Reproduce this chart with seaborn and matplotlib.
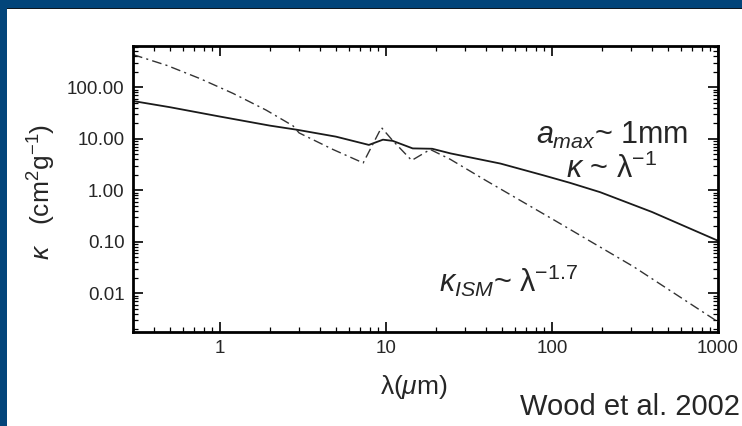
import matplotlib
matplotlib.use("Agg")
import matplotlib.pyplot as plt
from matplotlib.patches import Rectangle
from matplotlib.ticker import FixedLocator, FixedFormatter, LogLocator, NullFormatter
import seaborn as sns
import pandas as pd

# values
wl_mm = [0.3, 0.5, 1.0, 2.0, 2.9, 5.0, 7.9, 9.6, 11.0, 14.5, 19.0, 24.5, 49.0, 89.0, 128.0, 195.0, 400.0, 1000.0]
kappa_mm = [54, 41, 27, 18, 15, 11, 7.6, 9.6, 9.1, 6.5, 6.4, 5.2, 3.3, 1.95, 1.4, 0.92, 0.38, 0.105]

wl_ism = [0.3, 0.48, 0.76, 1.2, 1.9, 2.76, 3.0, 4.8, 7.3, 9.4, 11.0, 14.3, 18.5, 24.4, 40.0, 100.0, 310.0, 1000.0]
kappa_ism = [430, 265, 147, 76, 36, 17.8, 13, 6.2, 3.4, 16.5, 9.2, 3.8, 6.2, 4.0, 1.55, 0.28, 0.033, 0.0028]

xtick_vals = [1, 10, 100, 1000]
xtick_labels = ["1", "10", "100", "1000"]
ytick_vals = [0.01, 0.1, 1, 10, 100]
ytick_labels = ["0.01", "0.10", "1.00", "10.00", "100.00"]

blue = "#03457a"
W, H = 742, 426

sns.set_style("ticks")
plt.rcParams["font.family"] = ["Liberation Sans", "DejaVu Sans"]
plt.rcParams["mathtext.fontset"] = "custom"
plt.rcParams["mathtext.rm"] = "Liberation Sans"
plt.rcParams["mathtext.it"] = "Liberation Sans:italic"
plt.rcParams["mathtext.bf"] = "Liberation Sans:bold"

fig = plt.figure(figsize=(W / 100, H / 100), dpi=100, facecolor=blue)
# white slide area inside the blue frame
fig.patches.append(Rectangle((7 / W, 0), 1 - 7 / W, 1 - 8 / H, transform=fig.transFigure,
                             facecolor="white", edgecolor="none", zorder=-2))
fig.patches.append(Rectangle((7 / W, 1 - 9 / H), 1 - 7 / W, 1.5 / H, transform=fig.transFigure,
                             facecolor="#101820", edgecolor="none", zorder=-1))

ax = fig.add_axes([133 / W, 1 - 332 / H, (718 - 133) / W, (332 - 46) / H])
ax.set_facecolor("none")

df_mm = pd.DataFrame({"wl": wl_mm, "kappa": kappa_mm})
df_ism = pd.DataFrame({"wl": wl_ism, "kappa": kappa_ism})
sns.lineplot(data=df_mm, x="wl", y="kappa", ax=ax, color="#1a1a1a", linewidth=1.3)
sns.lineplot(data=df_ism, x="wl", y="kappa", ax=ax, color="#333333", linewidth=1.0,
             linestyle=(0, (7, 3, 1.5, 3)))

ax.set_xscale("log")
ax.set_yscale("log")
ax.set_xlim(0.3, 1000)
ax.set_ylim(0.00178, 631)

ax.xaxis.set_major_locator(FixedLocator(xtick_vals))
ax.xaxis.set_major_formatter(FixedFormatter(xtick_labels))
ax.yaxis.set_major_locator(FixedLocator(ytick_vals))
ax.yaxis.set_major_formatter(FixedFormatter(ytick_labels))
ax.xaxis.set_minor_locator(LogLocator(base=10, subs=range(2, 10), numticks=20))
ax.yaxis.set_minor_locator(LogLocator(base=10, subs=range(2, 10), numticks=20))
ax.xaxis.set_minor_formatter(NullFormatter())
ax.yaxis.set_minor_formatter(NullFormatter())

ax.tick_params(which="both", direction="in", top=True, right=True, color="black")
ax.tick_params(which="major", length=7, width=1.2, labelsize=13.5, pad=6)
ax.tick_params(which="minor", length=3.5, width=0.9)
for s in ax.spines.values():
    s.set_linewidth(2)
    s.set_color("black")

ax.set_xlabel(r"λ($\mu$m)", fontsize=19)
ax.set_ylabel(r"$\kappa$   (cm$^2$g$^{-1}$)", fontsize=19)
ax.xaxis.set_label_coords((414 - 133) / 585, -(373 - 332) / 286)
ax.yaxis.set_label_coords(-(133 - 58) / 585, (332 - 192) / 286)

def px(x, y):
    return x / W, 1 - y / H

fig.text(*px(612, 144), r"$a_{max}$~ 1mm", fontsize=22, ha="center", va="baseline")
fig.text(*px(611, 178), r"$\kappa$ ~ λ$^{-1}$", fontsize=22, ha="center", va="baseline")
fig.text(*px(439, 292), r"$\kappa_{ISM}$~ λ$^{-1.7}$", fontsize=22, ha="left", va="baseline")
fig.text(*px(740, 415), "Wood et al. 2002", fontsize=21, ha="right", va="baseline")

fig.savefig("out.png", dpi=100)
